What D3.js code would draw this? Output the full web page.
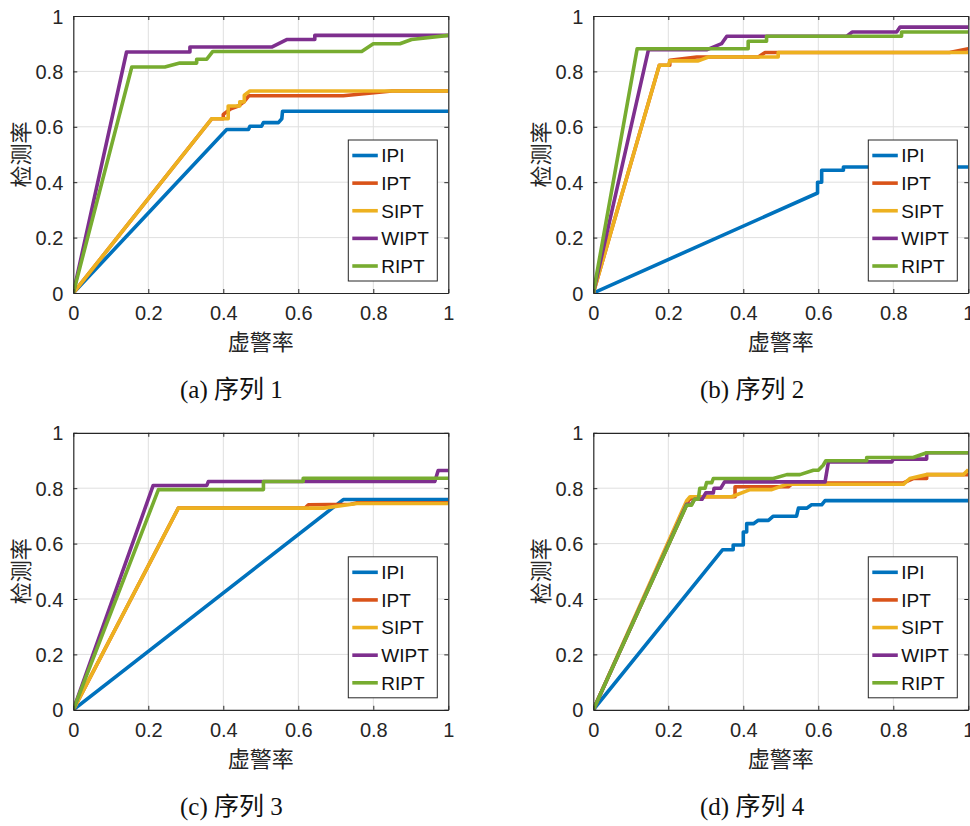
<!DOCTYPE html>
<html><head><meta charset="utf-8">
<script src="https://cdn.jsdelivr.net/npm/d3@7"></script>
<style>body{margin:0;background:#fff}</style>
</head><body>
<svg id="c" width="970" height="826"></svg>
<script>
const seriesNames = ["IPI","IPT","SIPT","WIPT","RIPT"];
const seriesColors = ["#0072BD","#D95319","#EDB120","#7E2F8E","#77AC30"];
const tickValues = [0,0.2,0.4,0.6,0.8,1];
const tickLabels = ["0","0.2","0.4","0.6","0.8","1"];
const captions = ["(a) 序列 1","(b) 序列 2","(c) 序列 3","(d) 序列 4"];
const xLabel = "虚警率", yLabel = "检测率";

// Panel (a)
const a_IPI = [[0,0],[0.409,0.590],[0.467,0.590],[0.471,0.602],[0.502,0.602],[0.507,0.615],[0.547,0.615],[0.556,0.629],[0.558,0.656],[1,0.656]];
const a_IPT = [[0,0],[0.369,0.629],[0.4,0.629],[0.4,0.645],[0.42,0.665],[0.44,0.675],[0.455,0.69],[0.468,0.712],[0.72,0.712],[0.85,0.729],[1,0.729]];
const a_SIPT = [[0,0],[0.369,0.629],[0.413,0.629],[0.413,0.675],[0.444,0.675],[0.444,0.69],[0.456,0.69],[0.456,0.714],[0.471,0.729],[1,0.729]];
const a_WIPT = [[0,0],[0.142,0.87],[0.311,0.87],[0.311,0.888],[0.529,0.888],[0.569,0.915],[0.644,0.915],[0.644,0.930],[1,0.930]];
const a_RIPT = [[0,0],[0.156,0.816],[0.244,0.816],[0.284,0.830],[0.329,0.830],[0.329,0.844],[0.356,0.844],[0.372,0.872],[0.769,0.872],[0.8,0.9],[0.871,0.9],[0.902,0.915],[1,0.930]];
// Panel (b)
const b_IPI = [[0,0],[0.598,0.361],[0.598,0.40],[0.609,0.40],[0.609,0.443],[0.667,0.443],[0.667,0.455],[1,0.455]];
const b_IPT = [[0,0],[0.176,0.822],[0.204,0.822],[0.204,0.84],[0.276,0.852],[0.44,0.852],[0.458,0.868],[0.95,0.868],[1,0.882]];
const b_SIPT = [[0,0],[0.176,0.822],[0.2,0.822],[0.204,0.838],[0.28,0.838],[0.307,0.852],[0.493,0.852],[0.493,0.868],[1,0.868]];
const b_WIPT = [[0,0],[0.147,0.878],[0.302,0.878],[0.342,0.9],[0.356,0.927],[0.676,0.927],[0.69,0.942],[0.809,0.942],[0.818,0.96],[1,0.96]];
const b_RIPT = [[0,0],[0.117,0.882],[0.413,0.882],[0.413,0.909],[0.462,0.909],[0.462,0.927],[0.822,0.927],[0.822,0.942],[1,0.942]];
// Panel (c)
const c_IPI = [[0,0],[0.72,0.759],[1,0.759]];
const c_IPT = [[0,0],[0.28,0.728],[0.618,0.728],[0.627,0.740],[0.74,0.742],[0.755,0.747],[1,0.747]];
const c_SIPT = [[0,0],[0.28,0.728],[0.667,0.728],[0.756,0.745],[1,0.745]];
const c_WIPT = [[0,0],[0.213,0.81],[0.356,0.81],[0.36,0.824],[0.964,0.824],[0.973,0.864],[1,0.864]];
const c_RIPT = [[0,0],[0.227,0.795],[0.507,0.795],[0.507,0.824],[0.613,0.824],[0.613,0.836],[1,0.836]];
// Panel (d)
const d_IPI = [[0,0],[0.345,0.578],[0.373,0.578],[0.373,0.595],[0.4,0.595],[0.4,0.642],[0.409,0.642],[0.409,0.672],[0.427,0.672],[0.44,0.684],[0.467,0.684],[0.48,0.699],[0.542,0.699],[0.547,0.728],[0.569,0.728],[0.582,0.74],[0.609,0.74],[0.618,0.755],[1,0.755]];
const d_IPT = [[0,0],[0.255,0.758],[0.27,0.769],[0.378,0.769],[0.378,0.805],[0.52,0.805],[0.533,0.819],[0.827,0.819],[0.853,0.835],[0.889,0.835],[0.889,0.849],[1,0.849]];
const d_SIPT = [[0,0],[0.249,0.755],[0.258,0.769],[0.369,0.769],[0.418,0.795],[0.476,0.795],[0.516,0.814],[0.827,0.814],[0.844,0.835],[0.889,0.849],[0.987,0.849],[1,0.867]];
const d_WIPT = [[0,0],[0.249,0.742],[0.262,0.742],[0.27,0.76],[0.29,0.76],[0.3,0.783],[0.32,0.783],[0.322,0.8],[0.34,0.8],[0.35,0.823],[0.618,0.823],[0.627,0.895],[0.796,0.895],[0.8,0.905],[0.889,0.905],[0.889,0.928],[1,0.928]];
const d_RIPT = [[0,0],[0.249,0.739],[0.262,0.739],[0.27,0.76],[0.28,0.76],[0.284,0.8],[0.298,0.8],[0.302,0.82],[0.316,0.82],[0.32,0.835],[0.48,0.835],[0.516,0.849],[0.551,0.849],[0.587,0.865],[0.6,0.865],[0.613,0.883],[0.62,0.899],[0.729,0.899],[0.729,0.911],[0.853,0.911],[0.889,0.928],[1,0.928]];

const panels = [
  [a_IPI,a_IPT,a_SIPT,a_WIPT,a_RIPT],
  [b_IPI,b_IPT,b_SIPT,b_WIPT,b_RIPT],
  [c_IPI,c_IPT,c_SIPT,c_WIPT,c_RIPT],
  [d_IPI,d_IPT,d_SIPT,d_WIPT,d_RIPT]
];

const svg = d3.select("#c");
const W = 375, H = 277;
const origins = [[73.3,16],[593.3,16],[73.3,432.8],[593.3,432.8]];
const captionX = [180,700,180,700];
const captionY = [398,398,815,815];
const axisColor = "#262626";
const sansFont = "'Liberation Sans', Arial, 'Noto Sans CJK SC', sans-serif";

panels.forEach((series, pi) => {
  const [ox, oy] = origins[pi];
  const g = svg.append("g").attr("transform", `translate(${ox},${oy})`);
  const x = d3.scaleLinear().domain([0,1]).range([0,W]);
  const y = d3.scaleLinear().domain([0,1]).range([H,0]);

  // grid
  g.append("g").selectAll("line.gx").data(tickValues.slice(1,-1)).join("line")
    .attr("x1", d=>x(d)).attr("x2", d=>x(d)).attr("y1",0).attr("y2",H)
    .attr("stroke","#dfdfdf").attr("stroke-width",1);
  g.append("g").selectAll("line.gy").data(tickValues.slice(1,-1)).join("line")
    .attr("y1", d=>y(d)).attr("y2", d=>y(d)).attr("x1",0).attr("x2",W)
    .attr("stroke","#dfdfdf").attr("stroke-width",1);

  // clip
  const cid = "clip"+pi;
  g.append("clipPath").attr("id",cid).append("rect").attr("x",0).attr("y",-2).attr("width",W).attr("height",H+2);

  const line = d3.line().x(d=>x(d[0])).y(d=>y(d[1]));
  const lg = g.append("g").attr("clip-path",`url(#${cid})`);
  series.forEach((pts, si) => {
    lg.append("path").attr("d", line(pts)).attr("fill","none")
      .attr("stroke", seriesColors[si]).attr("stroke-width",3.6)
      .attr("stroke-linejoin","round").attr("stroke-linecap","butt");
  });

  // axes (MATLAB box with inward ticks)
  const fontSize = 20;
  const bottom = g.append("g").attr("transform",`translate(0,${H})`)
    .call(d3.axisBottom(x).tickValues(tickValues).tickFormat((d,i)=>tickLabels[i]).tickSizeInner(-4).tickSizeOuter(0).tickPadding(9));
  const left = g.append("g")
    .call(d3.axisLeft(y).tickValues(tickValues).tickFormat((d,i)=>tickLabels[i]).tickSizeInner(-4).tickSizeOuter(0).tickPadding(10));
  const top = g.append("g")
    .call(d3.axisTop(x).tickValues(tickValues).tickFormat("").tickSizeInner(-4).tickSizeOuter(0));
  const right = g.append("g").attr("transform",`translate(${W},0)`)
    .call(d3.axisRight(y).tickValues(tickValues).tickFormat("").tickSizeInner(-4).tickSizeOuter(0));
  [bottom,left,top,right].forEach(a=>{
    a.selectAll("path.domain").attr("stroke",axisColor).attr("stroke-width",1.2);
    a.selectAll(".tick line").attr("stroke",axisColor).attr("stroke-width",1);
    a.selectAll("text").attr("fill",axisColor).style("font-family",sansFont).style("font-size",fontSize+"px");
  });
  bottom.selectAll("text").attr("dy","0.9em");
  left.selectAll("text").attr("dy","0.35em");

  // axis labels
  g.append("text").attr("x",W/2).attr("y",H+57).attr("text-anchor","middle")
    .style("font-family","'Noto Sans CJK SC', sans-serif").style("font-size","22px").attr("fill",axisColor).text(xLabel);
  g.append("text").attr("transform",`translate(-44,${H/2}) rotate(-90)`).attr("text-anchor","middle")
    .style("font-family","'Noto Sans CJK SC', sans-serif").style("font-size","22px").attr("fill",axisColor).text(yLabel);

  // legend
  const lx = 275, ly = 124, lw = 89, lh = 141;
  const leg = g.append("g").attr("transform",`translate(${lx},${ly})`);
  leg.append("rect").attr("width",lw).attr("height",lh).attr("fill","#fff").attr("stroke",axisColor).attr("stroke-width",1);
  const ey = d3.scalePoint().domain(seriesNames).range([15.5,126]);
  seriesNames.forEach((n,i)=>{
    leg.append("line").attr("x1",4).attr("x2",29.5).attr("y1",ey(n)).attr("y2",ey(n))
      .attr("stroke",seriesColors[i]).attr("stroke-width",3.6);
    leg.append("text").attr("x",33).attr("y",ey(n)).attr("dy","0.36em")
      .style("font-family",sansFont).style("font-size","19px").attr("fill","#111").text(n);
  });

  // caption
  svg.append("text").attr("x",captionX[pi]).attr("y",captionY[pi])
    .style("font-family","'Liberation Serif','Times New Roman','Noto Sans CJK SC',serif").style("font-size","25px")
    .attr("fill","#111").text(captions[pi]);
});
</script>
</body></html>
